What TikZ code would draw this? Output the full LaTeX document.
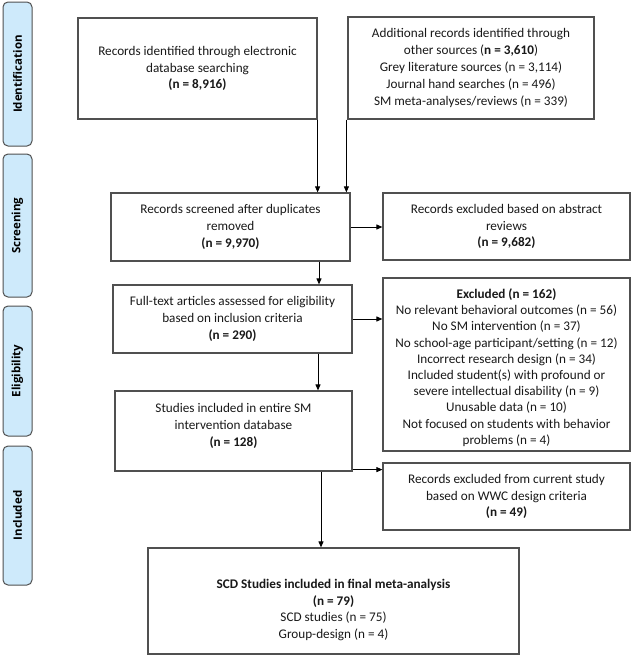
\documentclass[tikz,border=0pt]{standalone}
\usepackage{fontspec}
\setmainfont{Carlito}
\newfontfamily\tabfont{Open Sans}
\usetikzlibrary{arrows.meta}
\definecolor{tabblue}{RGB}{206,234,251}
\definecolor{tabborder}{RGB}{80,80,80}
\definecolor{boxgray}{RGB}{80,80,80}
\definecolor{txt}{RGB}{25,25,25}
\begin{document}
\begin{tikzpicture}[x=1pt,y=-1pt,
  box/.style={draw=boxgray, line width=1.2pt, fill=white, inner sep=0pt, text=txt,
    align=center, font=\fontsize{13.2}{16.8}\selectfont},
  tabbox/.style={draw=tabborder, fill=tabblue, rounded corners=5pt, line width=1pt,
    inner sep=0pt, minimum width=29pt},
  tablabel/.style={rotate=90, font=\tabfont\bfseries\fontsize{11.5}{13}\selectfont, text=black, inner sep=0pt},
  txtnode/.style={align=center, font=\fontsize{13.2}{16.8}\selectfont, text=txt, inner sep=0pt},
  arr/.style={draw=black, line width=0.9pt, -{Triangle[length=6pt,width=5pt]}}]
\useasboundingbox (0,0) rectangle (633,656);

% phase tabs
\node[tabbox, minimum height=144pt] (t1) at (17.5,74) {};
\node[tablabel] (t1l) at (t1.center) {Identification};
\node[tabbox, minimum height=143pt] (t2) at (17.5,225.5) {};
\node[tablabel] (t2l) at (t2.center) {Screening};
\node[tabbox, minimum height=130pt] (t3) at (17.5,371) {};
\node[tablabel] (t3l) at (t3.center) {Eligibility};
\node[tabbox, minimum height=139pt] (t4) at (17.5,515.5) {};
\node[tablabel] (t4l) at (t4.center) {Included};

% boxes
\node[box, minimum width=239pt, minimum height=101pt] (b1) at (197.5,68.5)
  {Records identified through electronic\\database searching\\\textbf{(n = 8,916)}};
\node[box, minimum width=246pt, minimum height=102pt] (b2) at (471,68)
  {Additional records identified through\\other sources (\textbf{n = 3,610})\\Grey literature sources (n = 3,114)\\Journal hand searches (n = 496)\\SM meta-analyses/reviews (n = 339)};
\node[box, minimum width=239pt, minimum height=68pt] (b3) at (230.5,227)
  {Records screened after duplicates\\removed\\\textbf{(n = 9,970)}};
\node[box, minimum width=247pt, minimum height=67pt] (b4) at (506.5,226.5)
  {Records excluded based on abstract\\reviews\\\textbf{(n = 9,682)}};
\node[box, minimum width=239pt, minimum height=68pt] (b5) at (232.5,319)
  {Full-text articles assessed for eligibility\\based on inclusion criteria\\\textbf{(n = 290)}};
\node[box, minimum width=247pt, minimum height=173pt] (b6) at (506.5,364.5) {};
\node[txtnode, font=\fontsize{13.2}{16.2}\selectfont] (b6t) at ([yshift=-3pt]b6.center)
  {\textbf{Excluded (n = 162)}\\No relevant behavioral outcomes (n = 56)\\No SM intervention (n = 37)\\No school-age participant/setting (n = 12)\\Incorrect research design (n = 34)\\Included student(s) with profound or\\severe intellectual disability (n = 9)\\Unusable data (n = 10)\\Not focused on students with behavior\\problems (n = 4)};
\node[box, minimum width=237pt, minimum height=80pt] (b7) at (233.5,431) {};
\node[txtnode] (b7t) at ([yshift=5pt]b7.center)
  {Studies included in entire SM\\intervention database\\\textbf{(n = 128)}};
\node[box, minimum width=247pt, minimum height=67pt] (b8) at (506.5,496.5)
  {Records excluded from current study\\based on WWC design criteria\\\textbf{(n = 49)}};
\node[box, minimum width=371pt, minimum height=106pt] (b9) at (333.5,601) {};
\node[txtnode] (b9t) at ([yshift=-9pt]b9.center)
  {\textbf{SCD Studies included in final meta-analysis}\\\textbf{(n = 79)}\\SCD studies (n = 75)\\Group-design (n = 4)};

% spine coordinates
\coordinate (s1) at (319,0);
\coordinate (s2) at (318,0);
\coordinate (s3) at (321,0);

% connectors
\draw[arr] (b1.south east) -- (b1.south east |- b3.north);
\draw[arr] ([xshift=-1pt]b2.south west) -- ([xshift=-1pt]b2.south west |- b3.north);
\draw[arr] (b3.east) -- (b3.east -| b4.west);
\draw[arr] (b3.south -| s1) -- (b5.north -| s1);
\draw[arr] (b5.east) -- (b5.east -| b6.west);
\draw[arr] (b5.south -| s2) -- (b7.north -| s2);
\draw[arr] ([yshift=2pt]b7.south east) -- ([yshift=2pt]b7.south east -| b8.west);
\draw[arr] (b7.south -| s3) -- (b9.north -| s3);
\end{tikzpicture}
\end{document}
